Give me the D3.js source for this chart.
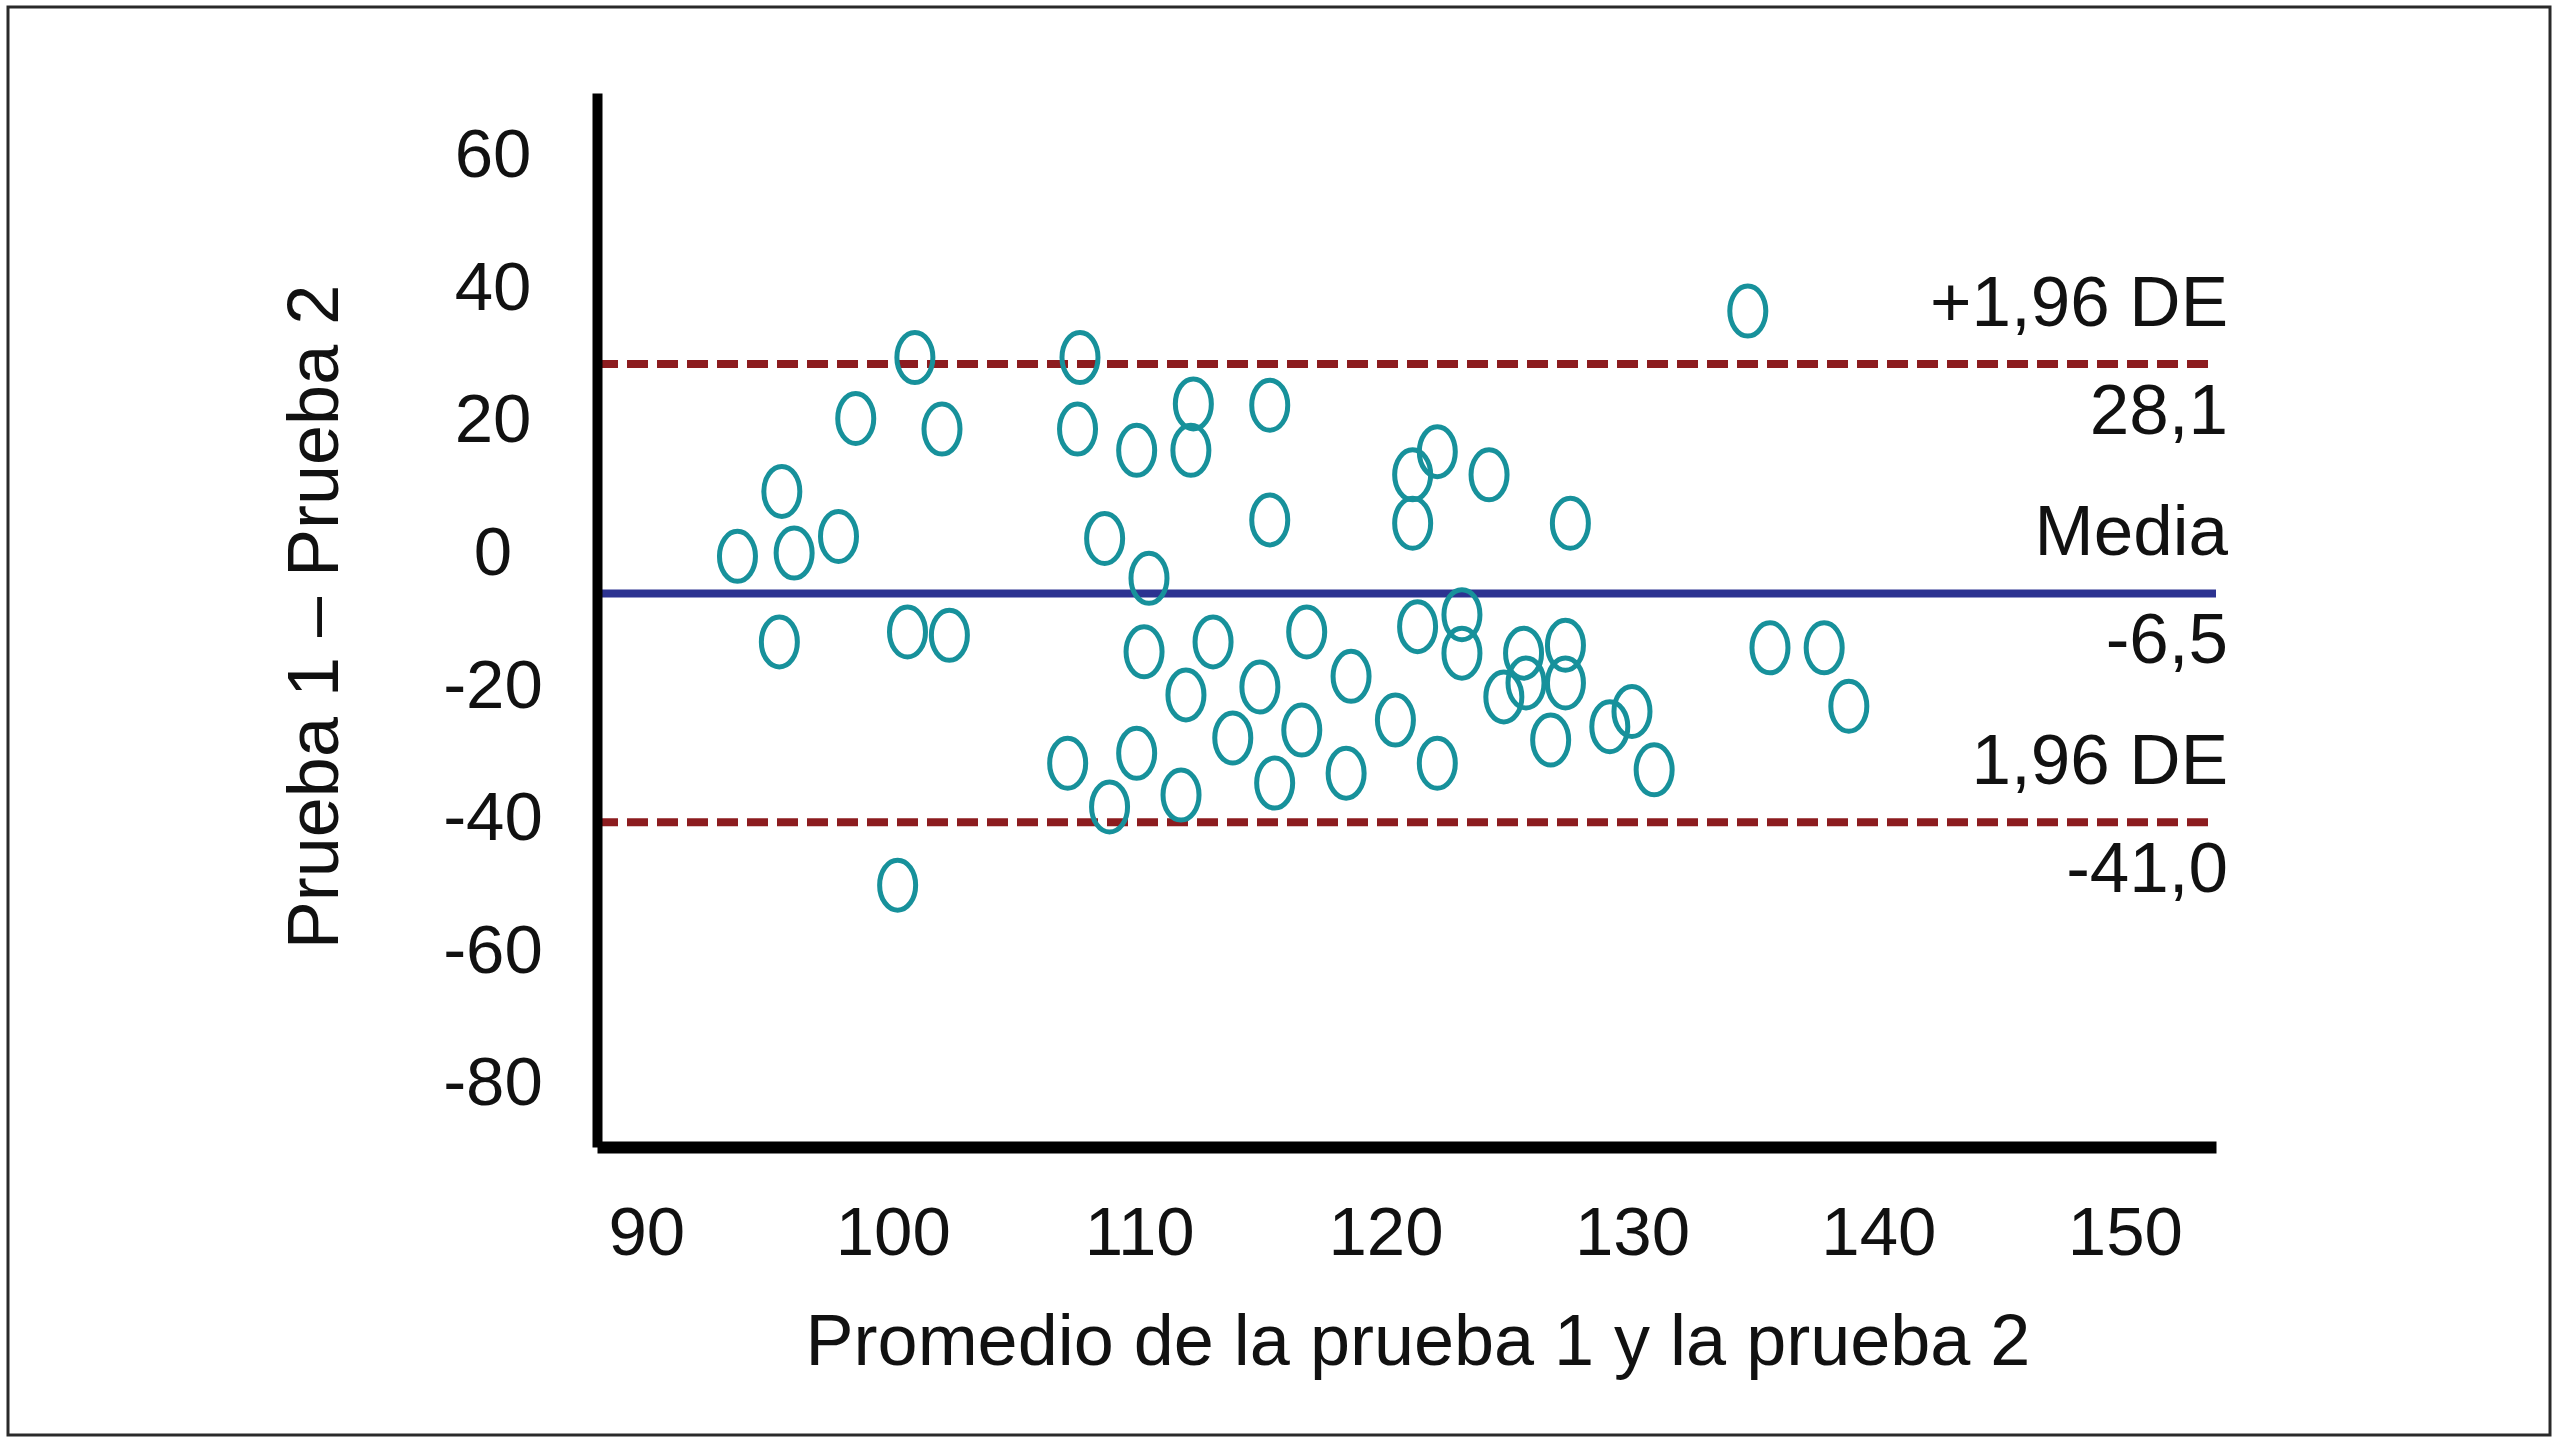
<!DOCTYPE html>
<html>
<head>
<meta charset="utf-8">
<script src="https://cdn.jsdelivr.net/npm/d3@7"></script>
<style>
  body { margin: 0; background: #ffffff; }
  text { font-family: "Liberation Sans", Arial, sans-serif; fill: #111; }
</style>
</head>
<body>
<div id="chart"></div>
<script>
// data
var promedio = [93.7, 95.5, 96.0, 95.4, 97.8, 98.5, 100.9, 102.0, 100.6, 102.3,
                100.2, 107.6, 107.5, 109.9, 108.6, 110.4, 112.2, 112.1, 110.2, 113.0,
                111.9, 107.1, 109.9, 108.8, 111.7, 115.3, 115.3, 114.9, 113.8, 116.8,
                116.6, 115.5, 118.6, 118.4, 121.1, 122.1, 121.1, 124.2, 127.5, 121.3,
                123.1, 123.1, 120.4, 122.1, 124.8, 125.6, 125.7, 127.3, 127.3, 126.7,
                129.1, 130.0, 130.9, 134.7, 135.6, 137.8, 138.8];
var diferencia = [-0.9, 8.9, -0.4, -13.8, 2.1, 19.9, 29.1, 18.3, -12.3, -12.8,
                  -50.5, 29.1, 18.3, 15.1, 1.8, -4.2, 22.1, 15.1, -15.3, -13.8,
                  -21.8, -32.1, -30.6, -38.7, -36.9, 21.9, 4.6, -20.6, -28.3, -12.3,
                  -27.1, -35.1, -19.0, -33.6, 11.4, 14.9, 4.1, 11.4, 4.1, -11.5,
                  -9.7, -15.5, -25.6, -32.1, -22.1, -15.5, -20.0, -14.3, -20.0, -28.6,
                  -26.6, -24.3, -33.1, 36.1, -14.7, -14.7, -23.5];

var xTicks = [90, 100, 110, 120, 130, 140, 150];
var yTicks = [60, 40, 20, 0, -20, -40, -60, -80];

var lineValues = [28.1, -6.5, -41.0];
var lineNamesTop = ["+1,96 DE", "Media", "1,96 DE"];
var lineNamesBottom = ["28,1", "-6,5", "-41,0"];

var svgWidth = 2560;
var svgHeight = 1444;

var chartMargin = {
    top: 93,
    right: 344,
    bottom: 297,
    left: 597
}

var chartWidth = svgWidth - chartMargin.left - chartMargin.right;
var chartHeight = svgHeight - chartMargin.top - chartMargin.bottom;

var svg = d3.select("#chart")
            .append("svg")
            .attr("width", svgWidth)
            .attr("height", svgHeight);

// outer frame
svg.append("rect")
    .attr("x", 8)
    .attr("y", 7)
    .attr("width", 2542)
    .attr("height", 1428)
    .attr("fill", "#fff")
    .attr("stroke", "#2a2a2a")
    .attr("stroke-width", 3);

var chartGroup = svg.append("g")
                    .attr("transform", `translate(${chartMargin.left}, ${chartMargin.top})`);

var xScale = d3.scaleLinear()
                .domain([88, 153.7])
                .range([0, chartWidth]);

var yScale = d3.scaleLinear()
                .domain([-90, 69])
                .range([chartHeight, 0]);

// reference lines
var lineStyles = [
    {color: "#8c1c1f", dash: "21 9"},
    {color: "#2c3391", dash: null},
    {color: "#8c1c1f", dash: "21 9"}
];

lineValues.forEach(function(v, i){
    chartGroup.append("line")
        .attr("x1", 0)
        .attr("x2", chartWidth)
        .attr("y1", yScale(v))
        .attr("y2", yScale(v))
        .attr("stroke", lineStyles[i].color)
        .attr("stroke-width", 8)
        .attr("stroke-dasharray", lineStyles[i].dash);

    chartGroup.append("text")
        .attr("x", chartWidth + 12)
        .attr("y", yScale(v) - 38)
        .attr("text-anchor", "end")
        .attr("font-size", 71)
        .text(lineNamesTop[i]);

    chartGroup.append("text")
        .attr("x", chartWidth + 12)
        .attr("y", yScale(v) + 70)
        .attr("text-anchor", "end")
        .attr("font-size", 71)
        .text(lineNamesBottom[i]);
});

// points
chartGroup.selectAll("ellipse")
    .data(promedio)
    .enter()
    .append("ellipse")
    .attr("cx", function(d){ return xScale(d); })
    .attr("cy", function(d, i){ return yScale(diferencia[i]); })
    .attr("rx", 18)
    .attr("ry", 25)
    .attr("fill", "none")
    .attr("stroke", "#17919b")
    .attr("stroke-width", 5);

// axes (plain hyphen for negatives, like the original)
var xAxis = d3.axisBottom(xScale).tickValues(xTicks).tickSize(0)
                .tickFormat(function(d){ return String(d); });
var yAxis = d3.axisLeft(yScale).tickValues(yTicks).tickSize(0)
                .tickFormat(function(d){ return String(d); });

var xg = chartGroup.append("g")
            .attr("transform", `translate(0, ${chartHeight})`)
            .call(xAxis);
xg.select(".domain").attr("stroke", "#000").attr("stroke-width", 12);
xg.selectAll("text")
    .attr("y", 84)
    .attr("dy", "0.35em")
    .attr("font-size", 69)
    .attr("fill", "#111");

var yg = chartGroup.append("g")
            .call(yAxis);
yg.select(".domain").attr("stroke", "#000").attr("stroke-width", 10);
yg.selectAll("text")
    .attr("x", -104)
    .attr("dy", "0.35em")
    .attr("text-anchor", "middle")
    .attr("font-size", 69)
    .attr("fill", "#111");

chartGroup.selectAll(".tick text").attr("font-family", "Liberation Sans, Arial, sans-serif");

// axis titles
svg.append("text")
    .attr("x", 1418)
    .attr("y", 1365)
    .attr("text-anchor", "middle")
    .attr("font-size", 72)
    .text("Promedio de la prueba 1 y la prueba 2");

svg.append("text")
    .attr("transform", "translate(338, 617) rotate(-90)")
    .attr("text-anchor", "middle")
    .attr("font-size", 72)
    .text("Prueba 1 – Prueba 2");
</script>
</body>
</html>
